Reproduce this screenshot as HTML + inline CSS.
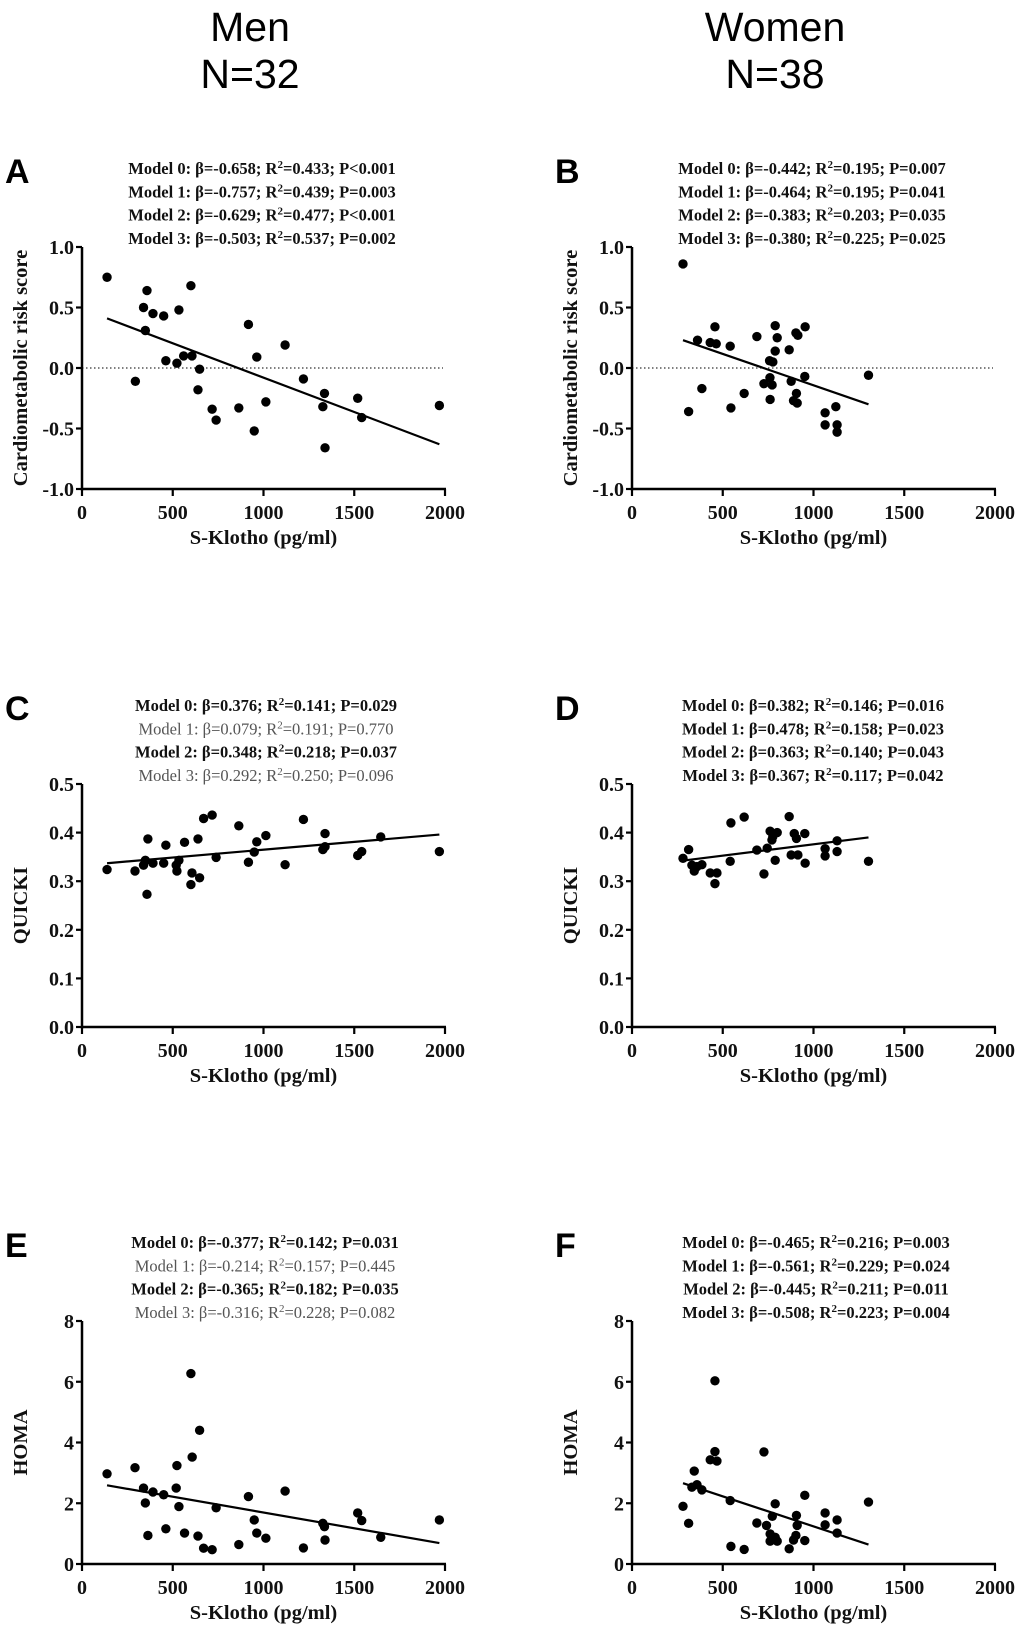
<!DOCTYPE html>
<html><head><meta charset="utf-8">
<style>
html,body{margin:0;padding:0;background:#fff;}
svg{display:block;}
.hdr{font-family:"Liberation Sans",sans-serif;font-size:41px;fill:#000;}
.let{font-family:"Liberation Sans",sans-serif;font-size:34px;font-weight:bold;fill:#000;}
.ann{font-family:"Liberation Serif",serif;font-size:16.5px;font-weight:bold;fill:#111;}
.ann.g{font-weight:normal;fill:#555;}
.tick{font-family:"Liberation Serif",serif;font-size:20px;font-weight:bold;fill:#111;}
.ttl{font-family:"Liberation Serif",serif;font-size:20.5px;font-weight:bold;fill:#111;}
</style></head>
<body>
<svg id="fig" width="1020" height="1634" viewBox="0 0 1020 1634" xmlns="http://www.w3.org/2000/svg">
<text class="hdr" x="250" y="41" text-anchor="middle">Men</text>
<text class="hdr" x="250" y="88" text-anchor="middle">N=32</text>
<text class="hdr" x="775" y="41" text-anchor="middle">Women</text>
<text class="hdr" x="775" y="88" text-anchor="middle">N=38</text>
</svg>
<script>
// ---- data ----
const aX=[138,339,349,358,391,450,462,523,534,560,606,600,639,648,717,739,864,917,949,963,1013,1119,1220,1327,1336,1339,1519,1541,1969,294];
const aY=[0.75,0.50,0.31,0.64,0.45,0.43,0.06,0.04,0.48,0.10,0.10,0.68,-0.18,-0.01,-0.34,-0.43,-0.33,0.36,-0.52,0.09,-0.28,0.19,-0.09,-0.32,-0.21,-0.66,-0.25,-0.41,-0.31,-0.11];
const aFitX=[138,1969], aFitY=[0.41,-0.63];
const bX=[281,312,361,385,431,457,464,541,545,618,688,727,758,760,761,772,776,789,789,800,866,877,890,903,906,910,914,952,954,1064,1064,1123,1130,1130,1303];
const bY=[0.86,-0.36,0.23,-0.17,0.21,0.34,0.20,0.18,-0.33,-0.21,0.26,-0.13,0.06,-0.08,-0.26,-0.14,0.05,0.35,0.14,0.25,0.15,-0.11,-0.27,0.29,-0.21,-0.29,0.27,-0.07,0.34,-0.37,-0.47,-0.32,-0.47,-0.53,-0.06];
const bFitX=[281,1303], bFitY=[0.23,-0.30];
const cX=[138,292,339,349,363,358,391,450,462,519,523,534,565,600,606,639,648,670,717,739,864,917,949,963,1013,1119,1220,1327,1339,1339,1519,1541,1646,1969];
const cY=[0.324,0.321,0.333,0.343,0.387,0.273,0.337,0.337,0.374,0.333,0.321,0.343,0.380,0.293,0.317,0.387,0.307,0.429,0.436,0.349,0.414,0.339,0.360,0.381,0.394,0.334,0.427,0.365,0.398,0.371,0.353,0.361,0.391,0.361];
const cFitX=[138,1969], cFitY=[0.337,0.396];
const dX=[281,312,330,343,358,385,431,457,468,541,545,618,688,727,745,761,771,776,789,800,866,877,894,906,914,952,954,1064,1064,1130,1130,1303];
const dY=[0.347,0.365,0.333,0.321,0.330,0.334,0.317,0.295,0.317,0.341,0.420,0.432,0.364,0.315,0.368,0.403,0.385,0.392,0.343,0.400,0.433,0.354,0.398,0.388,0.354,0.398,0.337,0.352,0.367,0.383,0.361,0.341];
const dFitX=[294,1303], dFitY=[0.343,0.390];
const eX=[138,292,339,349,363,391,450,462,519,523,534,565,600,607,639,648,670,717,739,864,917,949,963,1013,1119,1220,1327,1336,1339,1519,1541,1646,1969];
const eY=[2.97,3.17,2.50,2.01,0.94,2.37,2.28,1.16,2.50,3.24,1.89,1.02,6.27,3.52,0.92,4.40,0.52,0.47,1.85,0.64,2.22,1.45,1.02,0.85,2.40,0.53,1.34,1.23,0.79,1.68,1.43,0.88,1.45];
const eFitX=[138,1969], eFitY=[2.59,0.69];
const fX=[281,312,330,343,358,385,431,457,457,468,541,545,618,688,727,741,761,761,773,789,789,800,866,890,903,906,910,952,952,1064,1064,1130,1130,1303];
const fY=[1.90,1.34,2.53,3.06,2.61,2.44,3.43,3.70,6.03,3.39,2.09,0.58,0.48,1.35,3.69,1.27,0.99,0.75,1.57,1.98,0.88,0.75,0.50,0.79,0.94,1.60,1.27,2.26,0.77,1.68,1.29,1.45,1.02,2.04];
const fFitX=[281,1303], fFitY=[2.66,0.64];
const xTicks=[0,500,1000,1500,2000];
const ticksCRS=[-1.0,-0.5,0.0,0.5,1.0], ticksCRSLbl=["-1.0","-0.5","0.0","0.5","1.0"];
const ticksQ=[0,0.1,0.2,0.3,0.4,0.5], ticksQLbl=["0.0","0.1","0.2","0.3","0.4","0.5"];
const ticksH=[0,2,4,6,8], ticksHLbl=["0","2","4","6","8"];
const annA=[["Model 0: ","β=-0.658; R","=0.433; P<0.001",1],["Model 1: ","β=-0.757; R","=0.439;  P=0.003",1],["Model 2: ","β=-0.629; R","=0.477; P<0.001",1],["Model 3: ","β=-0.503; R","=0.537; P=0.002",1]];
const annB=[["Model 0: ","β=-0.442; R","=0.195; P=0.007",1],["Model 1: ","β=-0.464; R","=0.195;  P=0.041",1],["Model 2: ","β=-0.383; R","=0.203; P=0.035",1],["Model 3: ","β=-0.380; R","=0.225; P=0.025",1]];
const annC=[["Model 0: ","β=0.376; R","=0.141; P=0.029",1],["Model 1: ","β=0.079; R","=0.191;  P=0.770",0],["Model 2: ","β=0.348; R","=0.218; P=0.037",1],["Model 3: ","β=0.292; R","=0.250; P=0.096",0]];
const annD=[["Model 0: ","β=0.382; R","=0.146; P=0.016",1],["Model 1: ","β=0.478; R","=0.158;  P=0.023",1],["Model 2: ","β=0.363; R","=0.140; P=0.043",1],["Model 3: ","β=0.367; R","=0.117; P=0.042",1]];
const annE=[["Model 0: ","β=-0.377; R","=0.142; P=0.031",1],["Model 1: ","β=-0.214; R","=0.157; P=0.445",0],["Model 2: ","β=-0.365; R","=0.182; P=0.035",1],["Model 3: ","β=-0.316; R","=0.228; P=0.082",0]];
const annF=[["Model 0: ","β=-0.465; R","=0.216; P=0.003",1],["Model 1: ","β=-0.561; R","=0.229; P=0.024",1],["Model 2: ","β=-0.445; R","=0.211; P=0.011",1],["Model 3: ","β=-0.508; R","=0.223; P=0.004",1]];

const NS="http://www.w3.org/2000/svg";
const svg=document.getElementById('fig');
function mk(tag,attrs,parent){const e=document.createElementNS(NS,tag);for(const k in attrs)e.setAttribute(k,attrs[k]);(parent||svg).appendChild(e);return e;}

function panel(id,letter,x0,x1,yTop,yBot,yMin,yMax,yT,yTL,yTitle,xs,ys,fx,fy,ann,annCx,zeroLine){
  const g=mk('g',{});
  
  
  const sx=v=>x0+(v-0)/2000*(x1-x0);
  const sy=v=>yBot-(v-yMin)/(yMax-yMin)*(yBot-yTop);
  const L=mk('text',{class:'let',x:(x0<300?5:555),y:yTop-64},g);
  L.textContent=letter;
  
  
  ann.forEach((a,i)=>{
    const t=mk('text',{class:a[3]?'ann':'ann g',x:annCx,y:yTop-73+i*23.3,'text-anchor':'middle'},g);
    
    
    const s1=mk('tspan',{},t);s1.textContent=a[0]+a[1];
    const s2=mk('tspan',{dy:-6,'font-size':'11'},t);s2.textContent='2';
    const s3=mk('tspan',{dy:6},t);s3.textContent=a[2];
  });
  if(zeroLine){
    const z=mk('line',{x1:x0,x2:x1-2,y1:sy(0),y2:sy(0),stroke:'#333','stroke-width':1.2,'stroke-dasharray':'1.5,2.5'},g);
    
    
  }
  const ya=mk('line',{x1:x0,x2:x0,y1:yTop,y2:yBot+1.5,stroke:'#000','stroke-width':2.5},g);
  
  
  const xa=mk('line',{x1:x0-1,x2:x1+1,y1:yBot,y2:yBot,stroke:'#000','stroke-width':2.5},g);
  
  
  yT.forEach((v,i)=>{
    const tk=mk('line',{x1:x0-6,x2:x0,y1:sy(v),y2:sy(v),stroke:'#000','stroke-width':2.2},g);
    
    
    const tl=mk('text',{class:'tick',x:x0-8,y:sy(v)+7,'text-anchor':'end'},g);
    tl.textContent=yTL[i];
    
    
  });
  xTicks.forEach(v=>{
    const tk=mk('line',{x1:sx(v),x2:sx(v),y1:yBot,y2:yBot+7,stroke:'#000','stroke-width':2.2},g);
    
    
    const tl=mk('text',{class:'tick',x:sx(v),y:yBot+30,'text-anchor':'middle'},g);
    tl.textContent=String(v);
    
    
  });
  const xt=mk('text',{class:'ttl',x:(x0+x1)/2,y:yBot+55,'text-anchor':'middle'},g);
  xt.textContent='S-Klotho (pg/ml)';
  
  
  const cy=(yTop+yBot)/2, tx=x0-55;
  const yt=mk('text',{class:'ttl',x:tx,y:cy,'text-anchor':'middle',transform:'rotate(-90 '+tx+' '+cy+')'},g);
  yt.textContent=yTitle;
  
  
  xs.forEach((v,i)=>{
    const c=mk('circle',{cx:sx(v),cy:sy(ys[i]),r:4.7,fill:'#000'},g);
    
    
  });
  const fl=mk('line',{x1:sx(fx[0]),y1:sy(fy[0]),x2:sx(fx[1]),y2:sy(fy[1]),stroke:'#000','stroke-width':2.2},g);
  
  
}
const LX0=82,LX1=445,RX0=632,RX1=995;
panel('a','A',LX0,LX1,247,489,-1,1,ticksCRS,ticksCRSLbl,'Cardiometabolic risk score',aX,aY,aFitX,aFitY,annA,262,true);
panel('b','B',RX0,RX1,247,489,-1,1,ticksCRS,ticksCRSLbl,'Cardiometabolic risk score',bX,bY,bFitX,bFitY,annB,812,true);
panel('c','C',LX0,LX1,784,1027,0,0.5,ticksQ,ticksQLbl,'QUICKI',cX,cY,cFitX,cFitY,annC,266,false);
panel('d','D',RX0,RX1,784,1027,0,0.5,ticksQ,ticksQLbl,'QUICKI',dX,dY,dFitX,dFitY,annD,813,false);
panel('e','E',LX0,LX1,1321,1564,0,8,ticksH,ticksHLbl,'HOMA',eX,eY,eFitX,eFitY,annE,265,false);
panel('f','F',RX0,RX1,1321,1564,0,8,ticksH,ticksHLbl,'HOMA',fX,fY,fFitX,fFitY,annF,816,false);
</script>
</body></html>
